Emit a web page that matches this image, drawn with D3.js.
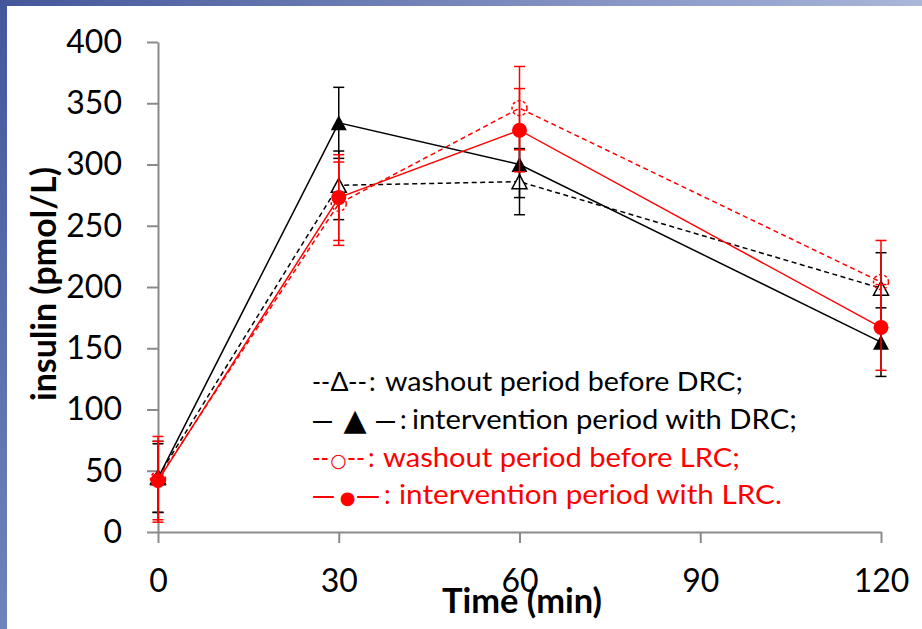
<!DOCTYPE html>
<html>
<head>
<meta charset="utf-8">
<script src="https://cdn.jsdelivr.net/npm/d3@7"></script>
<style>
html,body{margin:0;padding:0;background:#fff;}
svg{display:block;}
</style>
</head>
<body>
<script>
// ---- data ----
const times = [0, 30, 60, 120];
const washoutDRC = [45, 283, 286, 199];
const washoutDRCErr = [29, 28, 27, 29];
const interventionDRC = [44, 334, 300, 155];
const interventionDRCErr = [28, 29, 27, 28];
const washoutLRC = [43, 268, 346, 204];
const washoutLRCErr = [35, 34, 34, 34];
const interventionLRC = [42, 273, 328, 167];
const interventionLRCErr = [32, 35, 34, 35];
const xTicks = [0, 30, 60, 90, 120];
const yTicks = [0, 50, 100, 150, 200, 250, 300, 350, 400];
const xTitle = "Time (min)";
const yTitle = "insulin (pmol/L)";
const legendSymbols = [["--", "\u0394", "--", ":"], ["\u2014", "\u25B2", "\u2014", ":"], ["--", "\u25CB", "--", ":"], ["\u2014", "\u25CF", "\u2014", ":"]];
const legendTexts = ["washout period before DRC;", "intervention period with DRC;", "washout period before LRC;", "intervention period with LRC."];

const W = 922, H = 629;
const svg = d3.select("body").append("svg").attr("width", W).attr("height", H);

// slide frame
const defs = svg.append("defs");
const gl = defs.append("linearGradient").attr("id", "gl").attr("x1", 0).attr("y1", 0).attr("x2", 0).attr("y2", 1);
gl.append("stop").attr("offset", 0).attr("stop-color", "#43579a");
gl.append("stop").attr("offset", 1).attr("stop-color", "#6f84bc");
const gt = defs.append("linearGradient").attr("id", "gt").attr("x1", 0).attr("y1", 0).attr("x2", 1).attr("y2", 0);
gt.append("stop").attr("offset", 0).attr("stop-color", "#43579a");
gt.append("stop").attr("offset", 1).attr("stop-color", "#aab6da");
svg.append("rect").attr("x", 0).attr("y", 0).attr("width", W).attr("height", H).attr("fill", "#fff");
svg.append("rect").attr("x", 0).attr("y", 0).attr("width", W).attr("height", 6).attr("fill", "url(#gt)");
svg.append("rect").attr("x", 0).attr("y", 0).attr("width", 7).attr("height", H).attr("fill", "url(#gl)");

const x = d3.scaleLinear().domain([0, 120]).range([158, 881]);
const y = d3.scaleLinear().domain([0, 400]).range([532, 42]);
const axisColor = "#8a8a8a";
const FONT = "Lato, 'Open Sans', sans-serif";

// axes
const yAxis = svg.append("g").attr("transform", `translate(${x(0)},0)`)
  .call(d3.axisLeft(y).tickValues(yTicks).tickSize(11).tickSizeOuter(0).tickPadding(25));
const xAxis = svg.append("g").attr("transform", `translate(0,${y(0)})`)
  .call(d3.axisBottom(x).tickValues(xTicks).tickSize(11).tickSizeOuter(0).tickPadding(26));
[yAxis, xAxis].forEach(g => {
  g.selectAll("path,line").attr("stroke", axisColor).attr("stroke-width", 2);
  g.selectAll("text").attr("font-family", FONT).attr("font-size", 32).attr("fill", "#000");
});

function fit(sel, target) {
  const w = sel.node().getComputedTextLength();
  const fs = parseFloat(sel.attr("font-size"));
  sel.attr("font-size", fs * target / w);
}

// titles
const xt = svg.append("text").attr("x", 522).attr("y", 613).attr("text-anchor", "middle")
  .attr("font-family", FONT).attr("font-weight", "bold").attr("font-size", 28).text(xTitle);
fit(xt, 160);
const yt = svg.append("text").attr("transform", "translate(56,284) rotate(-90)").attr("text-anchor", "middle")
  .attr("font-family", FONT).attr("font-weight", "bold").attr("font-size", 28).text(yTitle);
fit(yt, 234);

// series
const series = [
  {v: washoutDRC, e: washoutDRCErr, color: "#000", dash: "5,3.5", marker: "openTri"},
  {v: interventionDRC, e: interventionDRCErr, color: "#000", dash: null, marker: "tri"},
  {v: washoutLRC, e: washoutLRCErr, color: "#ff0000", dash: "5,3.5", marker: "openCirc"},
  {v: interventionLRC, e: interventionLRCErr, color: "#ff0000", dash: null, marker: "circ"}
];
const triPath = (w, h) => `M0,${-h/2}L${w/2},${h/2}L${-w/2},${h/2}Z`;
const line = d3.line().x((d, i) => x(times[i])).y(d => y(d));

series.forEach(s => {
  const g = svg.append("g");
  times.forEach((t, i) => {
    const cx = x(t), top = y(s.v[i] + s.e[i]), bot = y(s.v[i] - s.e[i]);
    g.append("line").attr("x1", cx).attr("x2", cx).attr("y1", top).attr("y2", bot)
      .attr("stroke", s.color).attr("stroke-width", 1.5);
    [top, bot].forEach(yy => g.append("line").attr("x1", cx - 5.5).attr("x2", cx + 5.5)
      .attr("y1", yy).attr("y2", yy).attr("stroke", s.color).attr("stroke-width", 1.5));
  });
  g.append("path").attr("d", line(s.v)).attr("fill", "none").attr("stroke", s.color)
    .attr("stroke-width", 1.5).attr("stroke-dasharray", s.dash);
  s.v.forEach((v, i) => {
    const tr = `translate(${x(times[i])},${y(v)})`;
    if (s.marker === "openTri") {
      g.append("path").attr("d", triPath(15, 14)).attr("transform", tr)
        .attr("fill", "#fff").attr("stroke", "#000").attr("stroke-width", 1.5);
    } else if (s.marker === "tri") {
      g.append("path").attr("d", triPath(16, 15)).attr("transform", tr).attr("fill", "#000");
    } else if (s.marker === "openCirc") {
      g.append("circle").attr("cx", x(times[i])).attr("cy", y(v)).attr("r", 7.5)
        .attr("fill", "none").attr("stroke", s.color).attr("stroke-width", 1.5).attr("stroke-dasharray", "3,2.5");
    } else {
      g.append("circle").attr("cx", x(times[i])).attr("cy", y(v)).attr("r", 7.5).attr("fill", s.color);
    }
  });
});

// legend: text pieces placed to the reference's horizontal extents
function placeText(str, x0, base, width, fs, color, font) {
  const t = svg.append("text").attr("font-family", font || FONT).attr("font-size", fs)
    .attr("fill", color).attr("x", 0).attr("y", 0).text(str);
  const w = t.node().getComputedTextLength();
  const sx = width ? width / w : 1;
  t.attr("transform", `translate(${x0},${base}) scale(${sx},1)`);
  return t;
}
function placeSymbol(str, cx, base, fs, color, font) {
  return svg.append("text").attr("font-family", font).attr("font-size", fs)
    .attr("fill", color).attr("x", cx).attr("y", base).attr("text-anchor", "middle").text(str);
}
const legendY = [391, 429, 467, 504];
const legendColors = ["#000", "#000", "#ff0000", "#ff0000"];
const legendLayout = [
  {a: [312, 18], s: [339.5, 26.5], b: [348, 19], c: 369, w: [385, 358]},
  {a: [312, 21], s: [355, 30], b: [375, 21], c: 400, w: [412, 385]},
  {a: [312, 17], s: [338.5, 19], b: [347, 18], c: 368, w: [383, 357]},
  {a: [312, 23], s: [347.5, 18], b: [356, 24], c: 384, w: [399, 383]}
];
const LFS = 26.5;
const SYMFONT = "'DejaVu Sans', sans-serif";
legendTexts.forEach((t, i) => {
  const L = legendLayout[i], c = legendColors[i], b = legendY[i];
  const sym = legendSymbols[i];
  const em = sym[0] === "\u2014";
  placeText(sym[0], L.a[0], b, L.a[1], LFS, c, em ? SYMFONT : FONT);
  placeSymbol(sym[1], L.s[0], b + (i === 1 ? 1 : 0), L.s[1], c, i === 0 ? FONT : SYMFONT);
  placeText(sym[2], L.b[0], b, L.b[1], LFS, c, em ? SYMFONT : FONT);
  placeText(sym[3], L.c, b, null, LFS, c);
  placeText(t, L.w[0], b, L.w[1], LFS, c);
});
</script>
</body>
</html>
